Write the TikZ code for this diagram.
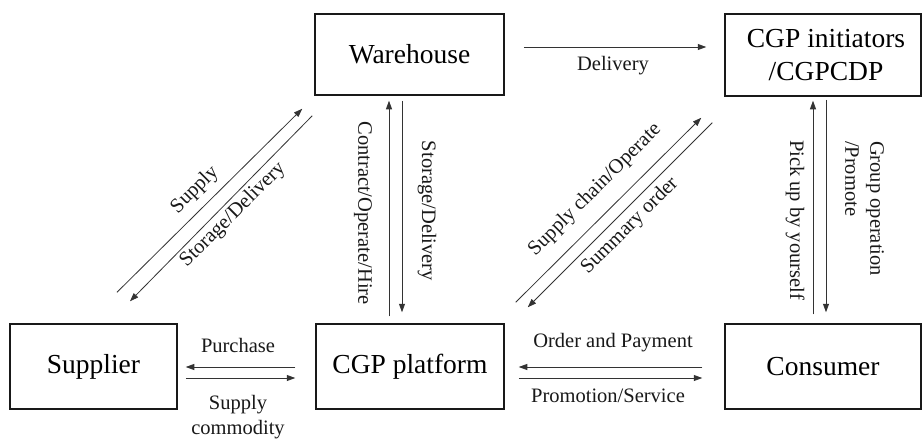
\documentclass[tikz,border=0pt]{standalone}
\usepackage{fontspec}
\setmainfont{Liberation Serif}
\usetikzlibrary{arrows.meta,calc}
\begin{document}
\begin{tikzpicture}[x=1pt,y=-1pt,
  box/.style={draw=black!90,line width=1.5pt,rectangle,inner sep=0pt,
    align=center,font=\fontsize{27.5}{33}\selectfont},
  lbl/.style={inner sep=0pt,align=center,text=black!90,
    font=\fontsize{20.5}{25}\selectfont},
  flow/.style={draw=black!80,line width=0.8pt,
    -{Triangle[length=8.5pt,width=6pt]}}]

% canvas
\fill[white] (0,0) rectangle (922,445);
\useasboundingbox (0,0) rectangle (922,445);

% actors
\node[box,minimum width=189pt,minimum height=81pt] (wh)   at (409.5,54.5) {Warehouse};
\node[box,minimum width=196pt,minimum height=82pt] (init) at (823,55) {\hspace*{6pt}CGP\hspace{7pt}initiators\\\hspace*{6pt}/CGPCDP};
\node[box,minimum width=167pt,minimum height=85pt] (sup)  at (93.5,366.5) {Supplier};
\node[box,minimum width=188pt,minimum height=85pt] (plat) at (410,366.5) {CGP platform};
\node[box,minimum width=196pt,minimum height=85pt] (con)  at (823,366.5) {Consumer};

% warehouse -> initiators
\draw[flow] ($(wh.east)+(19,-7.5)$) -- ($(init.west)+(-18,-8)$);
\node[lbl] (lDel) at (613,66) {Delivery};

% supplier <-> platform
\draw[flow] ($(plat.west)+(-20,0.5)$) -- ($(sup.east)+(8,0.5)$);
\draw[flow] ($(sup.east)+(8,11.5)$) -- ($(plat.west)+(-20,11.5)$);
\node[lbl] (lPur) at (238,345) {Purchase};
\node[lbl] (lSup) at (238,417.5) {Supply\\commodity};

% platform <-> consumer
\draw[flow] ($(con.west)+(-22,0.5)$) -- ($(plat.east)+(14,0.5)$);
\draw[flow] ($(plat.east)+(14,11.5)$) -- ($(con.west)+(-22,11.5)$);
\node[lbl] (lOrd) at (613,343) {Order and Payment};
\node[lbl] (lPro) at (608,396) {Promotion/Service};

% warehouse <-> platform
\draw[flow] ($(plat.north)+(-21,-7)$) -- ($(wh.south)+(-20.5,5)$);
\draw[flow] ($(wh.south)+(-7.5,5)$) -- ($(plat.north)+(-8,-11)$);
\node[lbl,rotate=-90] (lCon) at (363,213) {Contract/Operate/Hire};
\node[lbl,rotate=-90] (lSto) at (427,211) {Storage/Delivery};

% initiators <-> consumer
\draw[flow] ($(con.north)+(-10,-9)$) -- ($(init.south)+(-10,4)$);
\draw[flow] ($(init.south)+(3,3)$) -- ($(con.north)+(3,-11)$);
\node[lbl,rotate=-90] (lPick) at (795,220) {Pick up by yourself};
\node[lbl,rotate=-90,align=left] (lGrp) at (864.5,208.5) {Group operation\\/Promote};

% supplier <-> warehouse
\draw[flow] ($(sup.north)+(23.5,-31)$) -- ($(wh.south west)+(-12,13)$);
\draw[flow] ($(wh.south west)+(-2,20)$) -- ($(sup.north)+(36.5,-22)$);
\node[lbl,rotate=45] (lSupply) at (195,190) {Supply};
\node[lbl,rotate=45] (lSD) at (233,215) {Storage/Delivery};

% platform <-> initiators
\draw[flow] ($(plat.north east)+(11,-21)$) -- ($(init.south west)+(-23,21)$);
\draw[flow] ($(init.south west)+(-12,26)$) -- ($(plat.north east)+(23,-16)$);
\node[lbl,rotate=45] (lSC) at (595,190) {Supply chain/Operate};
\node[lbl,rotate=45] (lSum) at (630,226) {Summary order};

\end{tikzpicture}
\end{document}
